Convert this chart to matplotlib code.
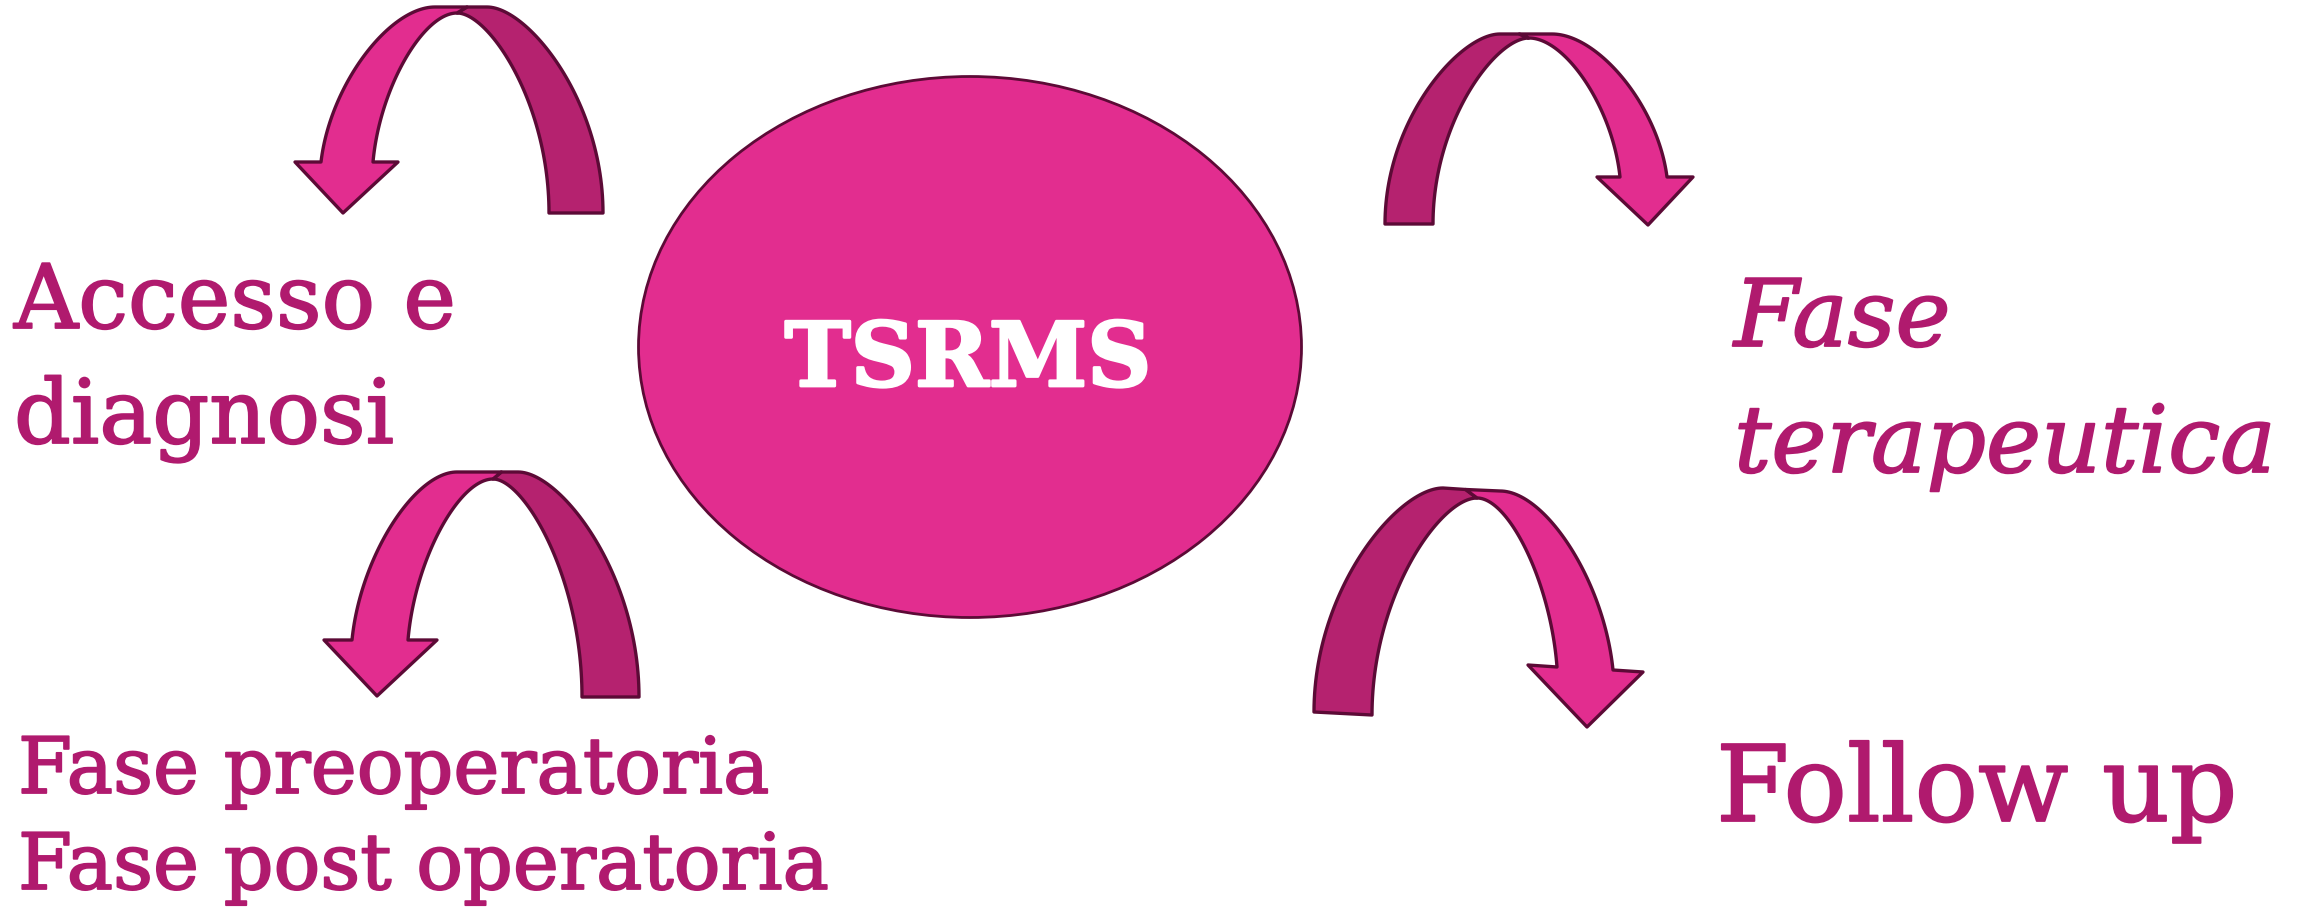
"""Flow diagram of the TSRMS pathway phases."""

import numpy as np
import matplotlib
matplotlib.use("Agg")
import matplotlib.pyplot as plt
import matplotlib.patheffects as pe
from matplotlib.patches import Ellipse, Polygon

# labels (one entry per line)
center_label = "TSRMS"
access_lines = ["Accesso e", "diagnosi"]
therapy_lines = ["Fase", "terapeutica"]
periop_lines = ["Fase preoperatoria", "Fase post operatoria"]
follow_lines = ["Follow up"]

BRIGHT = "#E22D8F"
DARK = "#B5226F"
EDGE = "#5C0A36"
TEXT = "#B01A6E"
FONT = "DejaVu Serif"

# arrow geometry in pixel space (y grows downwards)
# tail: outer/inner bottom points of the dark half, top: outer points of the bridge,
# cross: the twist point, head: outer/inner shaft ends, wings and tip of the head
ARROWS = [
    dict(tail_out=(603, 213), tail_in=(549, 213), top_tail=(487, 7), top_head=(435, 7),
         cross=(457, 13), head_out=(321, 162), head_in=(373, 162),
         wing_out=(295, 162), wing_in=(398, 162), tip=(343, 213)),
    dict(tail_out=(1385, 224), tail_in=(1433, 224), top_tail=(1500, 34), top_head=(1552, 34),
         cross=(1529, 38), head_out=(1667, 177), head_in=(1620, 177),
         wing_out=(1693, 177), wing_in=(1597, 177), tip=(1648, 225)),
    dict(tail_out=(639, 697), tail_in=(582, 697), top_tail=(518, 472), top_head=(457, 472),
         cross=(493, 479), head_out=(352, 640), head_in=(408, 640),
         wing_out=(324, 640), wing_in=(437, 640), tip=(377, 696)),
    dict(tail_out=(1314, 712), tail_in=(1372, 715), top_tail=(1443, 488), top_head=(1500, 491),
         cross=(1477, 498), head_out=(1613, 670), head_in=(1557, 667),
         wing_out=(1643, 672), wing_in=(1528, 665), tip=(1587, 727)),
]


def arch(bottom, top, n=60, lean=0.08, rise=0.5, flat=0.4):
    """Cubic curve from a bottom point up to a top point with horizontal tangent."""
    p0 = np.array(bottom, float)
    p3 = np.array(top, float)
    w = p3[0] - p0[0]
    h = p3[1] - p0[1]
    p1 = p0 + [lean * w, rise * h]
    p2 = p3 - [flat * w, 0]
    t = np.linspace(0, 1, n)[:, None]
    return (1 - t) ** 3 * p0 + 3 * (1 - t) ** 2 * t * p1 + 3 * (1 - t) * t ** 2 * p2 + t ** 3 * p3


def draw_arrow(ax, a):
    """Draw a twisted ribbon arrow: dark tail half, bright head half."""
    mid_top = ((a["top_tail"][0] + 2 * a["cross"][0]) / 3, (a["top_tail"][1] + a["top_head"][1]) / 2)
    tail_outer = arch(a["tail_out"], a["top_tail"], lean=0.0, rise=0.55, flat=0.35)
    tail_inner = arch(a["tail_in"], a["cross"], lean=0.0, rise=0.55, flat=0.35)[::-1]
    dark = np.vstack([tail_outer, [mid_top], tail_inner])
    ax.add_patch(Polygon(dark, closed=True, facecolor=DARK, edgecolor=EDGE, linewidth=2.4, joinstyle="round"))

    head_outer = arch(a["head_out"], a["top_head"])
    head_inner = arch(a["head_in"], a["cross"])[::-1]
    bright = np.vstack([head_outer, [mid_top], head_inner,
                        [a["wing_in"], a["tip"], a["wing_out"]]])
    ax.add_patch(Polygon(bright, closed=True, facecolor=BRIGHT, edgecolor=EDGE, linewidth=2.4, joinstyle="round"))


def draw_lines(ax, lines, x, first_baseline, step, size, **kw):
    for i, line in enumerate(lines):
        ax.text(x, first_baseline + i * step, line, ha="left", va="baseline",
                fontsize=size, color=TEXT, family=FONT,
                path_effects=[pe.withStroke(linewidth=1.3, foreground=TEXT)], **kw)


def main():
    fig = plt.figure(figsize=(23, 9.1), dpi=100)
    ax = fig.add_axes([0, 0, 1, 1])
    ax.set_xlim(0, 2300)
    ax.set_ylim(910, 0)
    ax.axis("off")

    ax.add_patch(Ellipse((970, 347), 663, 541, facecolor=BRIGHT, edgecolor=EDGE, linewidth=2))
    ax.text(968, 386, center_label, ha="center", va="baseline", fontsize=64,
            fontweight="bold", color="white", family=FONT,
            path_effects=[pe.withStroke(linewidth=2, foreground="white")])

    for a in ARROWS:
        draw_arrow(ax, a)

    draw_lines(ax, access_lines, 14, 328, 115, 64)
    draw_lines(ax, therapy_lines, 1734, 346, 126, 67, style="italic")
    draw_lines(ax, periop_lines, 18, 793, 96, 56)
    draw_lines(ax, follow_lines, 1716, 821, 0, 76)

    fig.savefig("out.png", dpi=100)
    plt.close(fig)


if __name__ == "__main__":
    main()
